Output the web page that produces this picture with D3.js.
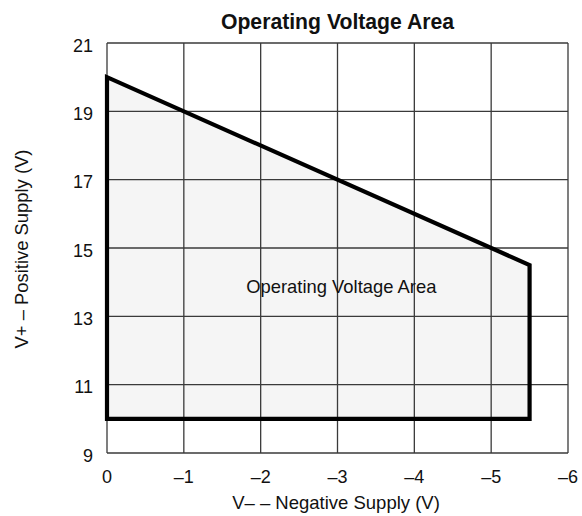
<!DOCTYPE html>
<html><head><meta charset="utf-8">
<script src="https://cdn.jsdelivr.net/npm/d3@7"></script>
<style>body{margin:0;background:#fff}svg{display:block}text{font-family:"Liberation Sans",Arial,sans-serif;fill:#111}</style>
</head><body>
<svg id="c" width="582" height="516"></svg>
<script>
const xTicks = [0, -1, -2, -3, -4, -5, -6];
const yTicks = [9, 11, 13, 15, 17, 19, 21];
const yGrid = [9, 11, 13, 15, 17, 19, 21];
const areaX = [0, 0, -5.5, -5.5];
const areaY = [10, 20, 14.5, 10];
const title = "Operating Voltage Area";
const xTitle = "V\u2013 \u2013 Negative Supply (V)";
const yTitle = "V+ \u2013 Positive Supply (V)";
const areaLabel = "Operating Voltage Area";

const svg = d3.select("#c");
const m = {l:107, r:568, t:43, b:453};
const x = d3.scaleLinear().domain([0,-6]).range([m.l,m.r]);
const y = d3.scaleLinear().domain([9,21]).range([m.b,m.t]);

const pts = areaX.map((v,i)=>[x(v), y(areaY[i])]);
svg.append("polygon").attr("points", pts.map(p=>p.join(",")).join(" ")).attr("fill","#f5f5f5");

const g = svg.append("g");
g.selectAll(".vx").data(xTicks).join("line").attr("x1",d=>x(d)).attr("x2",d=>x(d)).attr("y1",m.t).attr("y2",m.b).attr("stroke","#3a3a3a").attr("stroke-width",1.3);
g.selectAll(".hy").data(yGrid).join("line").attr("y1",d=>y(d)).attr("y2",d=>y(d)).attr("x1",m.l).attr("x2",m.r).attr("stroke","#3a3a3a").attr("stroke-width",1.3);

svg.append("polygon").attr("points", pts.map(p=>p.join(",")).join(" ")).attr("fill","none").attr("stroke","#000").attr("stroke-width",4.2).attr("stroke-linejoin","miter");

const fmt = d => d < 0 ? "\u2013" + Math.abs(d) : String(d);
svg.append("g").selectAll("text").data(xTicks).join("text").attr("x",d=>x(d)).attr("y",483).attr("text-anchor","middle").attr("font-size",18).text(fmt);
svg.append("g").selectAll("text").data(yTicks).join("text").attr("x",93).attr("y",d=>y(d)+8.5).attr("text-anchor","end").attr("font-size",18).text(d=>d);

svg.append("text").attr("x",(m.l+m.r)/2).attr("y",29).attr("text-anchor","middle").attr("font-size",21.2).attr("font-weight","bold").text(title);
svg.append("text").attr("x",(m.l+m.r)/2 - 1.5).attr("y",509).attr("text-anchor","middle").attr("font-size",18.5).text(xTitle);
svg.append("text").attr("transform","translate(28,249) rotate(-90)").attr("text-anchor","middle").attr("font-size",18.4).text(yTitle);
svg.append("text").attr("x",x(-3.05)).attr("y",293).attr("text-anchor","middle").attr("font-size",18.4).text(areaLabel);
</script>
</body></html>
